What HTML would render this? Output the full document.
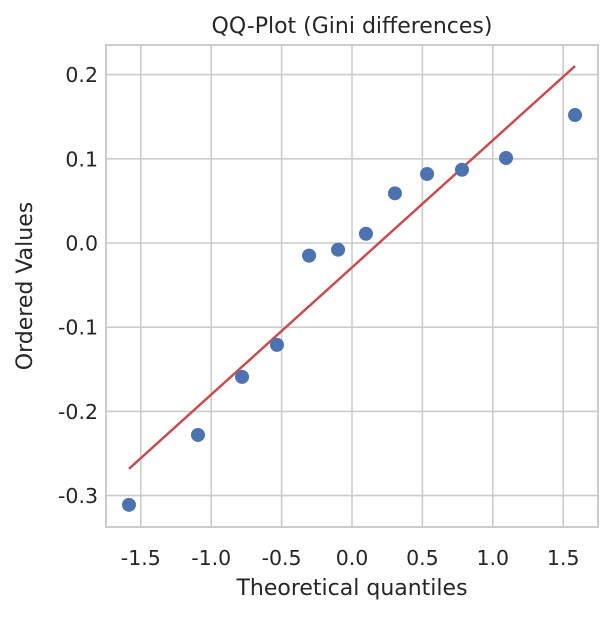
<!DOCTYPE html>
<html><head><meta charset="utf-8"><style>
body{margin:0;background:#fff;}
svg text{font-family:"DejaVu Sans","Liberation Sans",sans-serif;fill:#262626;}
</style></head><body>
<svg id="chart" width="612" height="613" xmlns="http://www.w3.org/2000/svg"></svg>
<script>
const xTicks=[-1.5,-1.0,-0.5,0.0,0.5,1.0,1.5];
const xTickLabels=["-1.5","-1.0","-0.5","0.0","0.5","1.0","1.5"];
const yTicks=[-0.3,-0.2,-0.1,0.0,0.1,0.2];
const yTickLabels=["-0.3","-0.2","-0.1","0.0","0.1","0.2"];
const theoretical=[-1.584,-1.094,-0.781,-0.533,-0.305,-0.099,0.099,0.305,0.533,0.781,1.094,1.584];
const ordered=[-0.311,-0.228,-0.159,-0.121,-0.015,-0.008,0.011,0.059,0.082,0.087,0.101,0.152];
const fitSlope=[0.151];
const fitIntercept=[-0.029];

const svg=document.getElementById('chart');
const NS='http://www.w3.org/2000/svg';
const L=106,R=598,T=45,B=527;
const xs=v=>352+v*140.8;
const ys=v=>243-v*842;
function mk(tag,attrs){const e=document.createElementNS(NS,tag);for(const k in attrs)e.setAttribute(k,attrs[k]);svg.appendChild(e);return e;}

xTicks.forEach((t,i)=>{
  const g=mk('line',{x1:xs(t),x2:xs(t),y1:T,y2:B,stroke:'#cccccc','stroke-width':1.6});
  
  
  const tx=mk('text',{x:xs(t),y:B+38,'text-anchor':'middle','font-size':20.5});
  tx.textContent=xTickLabels[i];
  
  
});
yTicks.forEach((t,i)=>{
  const g=mk('line',{x1:L,x2:R,y1:ys(t),y2:ys(t),stroke:'#cccccc','stroke-width':1.6});
  
  
  const tx=mk('text',{x:L-8,y:ys(t)+7.5,'text-anchor':'end','font-size':20.5});
  tx.textContent=yTickLabels[i];
  
  
});
const frame=mk('rect',{x:L,y:T,width:R-L,height:B-T,fill:'none',stroke:'#cccccc','stroke-width':2});



const x0=theoretical[0],x1=theoretical[theoretical.length-1];
const fit=mk('line',{x1:xs(x0),y1:ys(fitSlope[0]*x0+fitIntercept[0]),x2:xs(x1),y2:ys(fitSlope[0]*x1+fitIntercept[0]),stroke:'#c44e52','stroke-width':2.5});



theoretical.forEach((v,i)=>{
  const c=mk('circle',{cx:xs(v),cy:ys(ordered[i]),r:7,fill:'#4c72b0'});
  
  
});

const title=mk('text',{x:(L+R)/2,y:33,'text-anchor':'middle','font-size':22});
title.textContent='QQ-Plot (Gini differences)';


const xl=mk('text',{x:(L+R)/2,y:595,'text-anchor':'middle','font-size':22});
xl.textContent='Theoretical quantiles';


const yl=mk('text',{x:0,y:0,'text-anchor':'middle','font-size':22,transform:'translate(32,'+((T+B)/2)+') rotate(-90)'});
yl.textContent='Ordered Values';


</script>
</body></html>
